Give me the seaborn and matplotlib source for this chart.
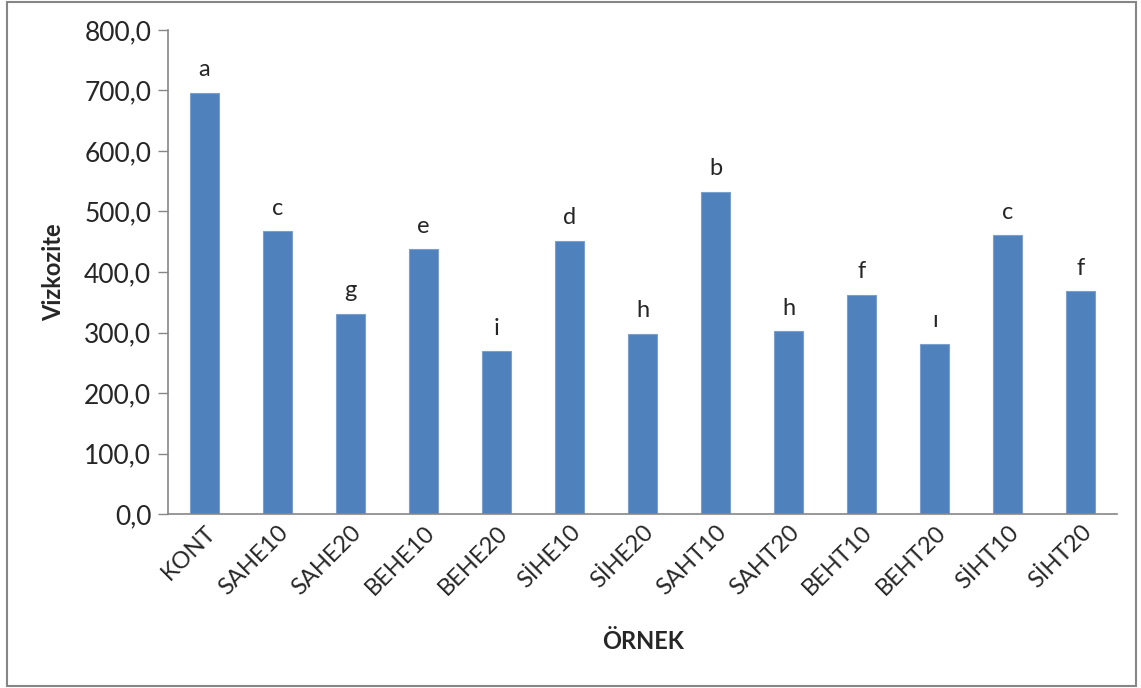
import matplotlib
matplotlib.use('Agg')
import matplotlib.pyplot as plt
import seaborn as sns
import pandas as pd
from matplotlib.ticker import FuncFormatter, MultipleLocator
from matplotlib.patches import Rectangle

samples = ['KONT', 'SAHE10', 'SAHE20', 'BEHE10', 'BEHE20', 'SİHE10', 'SİHE20',
           'SAHT10', 'SAHT20', 'BEHT10', 'BEHT20', 'SİHT10', 'SİHT20']
viscosity = [696, 467, 331, 438, 269, 452, 298, 533, 302, 362, 281, 461, 368]
letters = ['a', 'c', 'g', 'e', 'i', 'd', 'h', 'b', 'h', 'f', 'ı', 'c', 'f']

df = pd.DataFrame({'sample': samples, 'value': viscosity})

sns.set_style('white')
plt.rcParams['font.family'] = ['Lato', 'DejaVu Sans']

fig = plt.figure(figsize=(11.41, 6.88), dpi=100)
ax = fig.add_axes([0.1472, 0.2529, 0.8320, 0.7035])

sns.barplot(data=df, x='sample', y='value', color='#4F81BD', width=0.4,
            saturation=1, edgecolor='#7BA0CD', linewidth=0.8, ax=ax)

ax.set_ylim(0, 800)
ax.set_xlim(-0.5, len(samples) - 0.5)
ax.yaxis.set_major_locator(MultipleLocator(100))
ax.yaxis.set_major_formatter(FuncFormatter(lambda v, p: f'{v:.1f}'.replace('.', ',')))

for i, (v, lab) in enumerate(zip(viscosity, letters)):
    ax.annotate(lab, (i, v), xytext=(0, 9), textcoords='offset points',
                ha='center', va='bottom', fontsize=17)

for side in ['top', 'right']:
    ax.spines[side].set_visible(False)
for side in ['left', 'bottom']:
    ax.spines[side].set_color('#868686')
    ax.spines[side].set_linewidth(1.2)

ax.tick_params(axis='y', which='major', left=True, length=7, width=1,
               color='#868686', labelsize=19, pad=5)
ax.tick_params(axis='x', bottom=False, labelsize=17, pad=2)
for t in ax.get_xticklabels():
    t.set_rotation(45)
    t.set_ha('right')
    t.set_rotation_mode('anchor')

ax.set_xlabel('ÖRNEK', fontsize=17, fontweight='bold', labelpad=22)
ax.set_ylabel('Vizkozite', fontsize=17, fontweight='bold', labelpad=14)

fig.patches.append(Rectangle((0.006, 0.003), 0.99, 0.994, transform=fig.transFigure,
                             fill=False, edgecolor='#868686', linewidth=1.5))

fig.savefig('out.png', dpi=100)
